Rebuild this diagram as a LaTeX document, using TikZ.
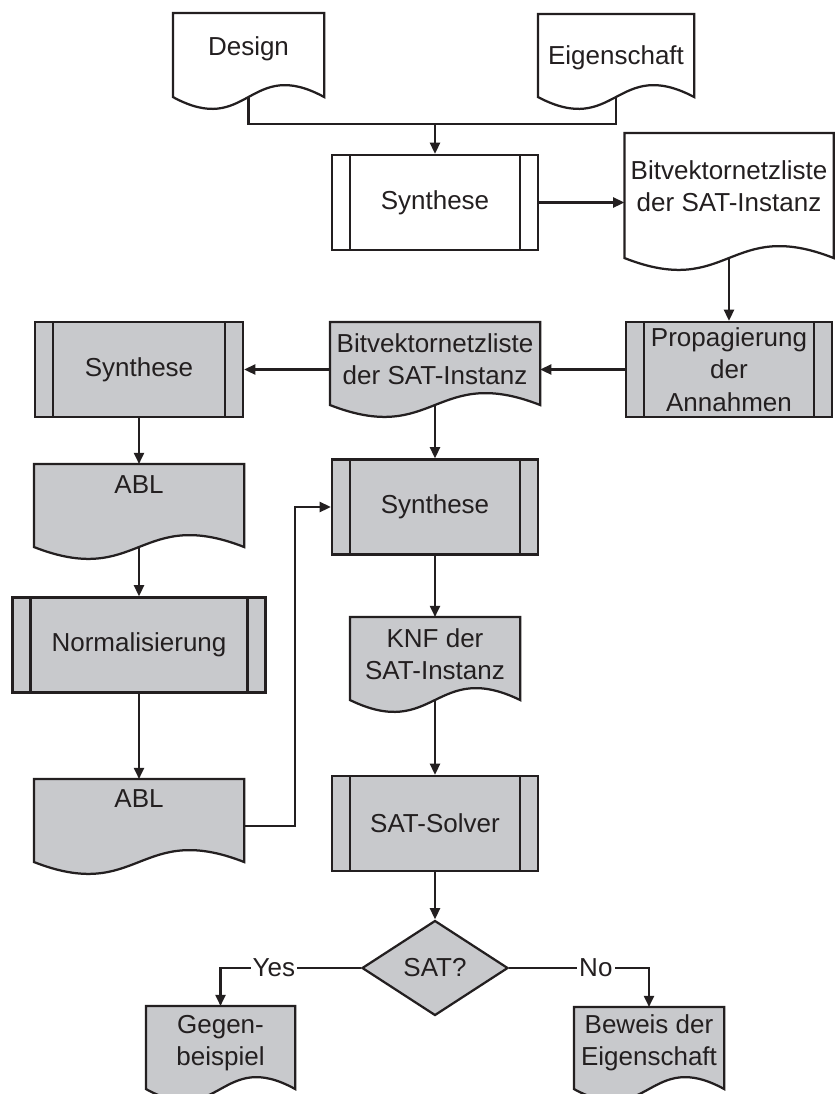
\documentclass[tikz,border=0pt]{standalone}
\usepackage{fontspec}
\setmainfont{Liberation Sans}
\usetikzlibrary{arrows.meta,shapes.geometric,backgrounds}

\definecolor{ink}{RGB}{35,31,32}
\definecolor{boxgray}{RGB}{200,201,204}

% outline of a document symbol around node #2, corner #3 below its top
\newcommand\docshape[3][white]{%
  \filldraw[line width=1.6pt, draw=ink, fill=#1] (#2.north west) -- (#2.north east)
    -- ([yshift=-#3]#2.north east)
    .. controls ([yshift=-#3+1.03cm]#2.north) and ([yshift=-#3-1.03cm]#2.north) .. ([yshift=-#3]#2.north west)
    -- cycle;}

\begin{document}
\begin{tikzpicture}[line width=1.6pt, color=ink,
  every node/.style={font=\fontsize{18.5}{23}\selectfont},
  proc/.style={draw, fill=boxgray, minimum width=5.15cm, minimum height=2.375cm,
    inner sep=1pt, align=center,
    path picture={\draw ([xshift=0.45cm]path picture bounding box.north west) -- ([xshift=0.45cm]path picture bounding box.south west)
      ([xshift=-0.45cm]path picture bounding box.north east) -- ([xshift=-0.45cm]path picture bounding box.south east);}},
  doc/.style={anchor=north, minimum height=1.8cm, inner sep=1pt, align=center},
  dec/.style={diamond, draw, fill=boxgray, minimum width=3.65cm, minimum height=2.375cm, inner sep=0pt},
  arr/.style={-{Triangle[length=0.28cm,width=0.25cm]}},
  lbl/.style={fill=white, inner sep=1.5pt}]
\useasboundingbox (0,0) rectangle (20.9,-27.35);

\node[doc, minimum width=3.725cm, minimum height=1.75cm] (design) at (6.2125,-0.325) {Design};
\node[doc, minimum width=3.85cm, minimum height=2.15cm] (eig) at (15.4,-0.35) {Eigenschaft};
\node[proc, fill=white] (syn1) at (10.875,-5.0625) {Synthese};
\node[doc, minimum width=5.175cm, minimum height=2.6cm] (bit1) at (18.225,-3.325) {Bitvektornetzliste\\der SAT-Instanz};
\node[proc] (prop) at (18.225,-9.2375) {Propagierung\\der\\Annahmen};
\node[doc, minimum width=5.2cm] (bit2) at (10.875,-8.05) {Bitvektornetzliste\\der SAT-Instanz};
\node[proc, minimum width=5.2cm] (syn2) at (3.475,-9.2375) {Synthese};
\node[doc, minimum width=5.2cm, minimum height=0.95cm] (abl1) at (3.475,-11.6) {ABL};
\node[proc] (syn3) at (10.875,-12.675) {Synthese};
\node[proc, minimum width=6.325cm] (norm) at (3.475,-16.125) {Normalisierung};
\node[doc, minimum width=5.2cm, minimum height=0.9cm] (abl2) at (3.475,-19.475) {ABL};
\node[doc, minimum width=4.2cm] (knf) at (10.875,-15.425) {KNF der\\SAT-Instanz};
\node[proc] (solver) at (10.875,-20.5875) {SAT-Solver};
\node[dec] (sat) at (10.875,-24.2) {SAT?};
\node[doc, minimum width=3.675cm] (gegen) at (5.5125,-25.15) {Gegen-\\beispiel};
\node[doc, minimum width=3.7cm, minimum height=1.725cm] (beweis) at (16.225,-25.175) {Beweis der\\Eigenschaft};

% where the wavy bottom edges cross the middle
\coordinate (design-out) at ([yshift=-2.1cm]design.north);
\coordinate (eig-out) at ([yshift=-2.075cm]eig.north);
\coordinate (bit1-out) at ([yshift=-3.125cm]bit1.north);
\coordinate (bit2-out) at ([yshift=-2.075cm]bit2.north);
\coordinate (abl1-out) at ([yshift=-2.075cm]abl1.north);
\coordinate (knf-out) at ([yshift=-2.075cm]knf.north);
\coordinate (merge) at (10.875,-3.1);

\draw (design-out) |- (merge) -| (eig-out);
\draw[arr] (merge) -- (syn1.north);
\draw[arr] (syn1.east) -- (syn1.east -| bit1.west);
\draw[arr] (bit1-out) -- (prop.north);
\draw[arr] (prop.west) -- (prop.west -| bit2.east);
\draw[arr] (syn2.east -| bit2.west) -- (syn2.east);
\draw[arr] (syn2.south) -- (abl1.north);
\draw[arr] (bit2-out) -- (syn3.north);
\draw[arr] (abl1-out) -- (norm.north);
\draw[arr] (syn3.south) -- (knf.north);
\draw[arr] (norm.south) -- (abl2.north);
\draw[arr] ([yshift=-1.175cm]abl2.north east) -- ++(1.275,0) |- (syn3.west);
\draw[arr] (knf-out) -- (solver.north);
\draw[arr] (solver.south) -- (sat.north);
\draw[arr] (sat.west) -| node[lbl, pos=0.31] (yes) {Yes} (gegen.north);
\draw[arr] (sat.east) -| node[lbl, pos=0.31] (no) {No} (beweis.north);

\begin{scope}[on background layer]
\docshape{design}{2.1cm}
\docshape{eig}{2.075cm}
\docshape{bit1}{3.125cm}
\docshape[boxgray]{bit2}{2.075cm}
\docshape[boxgray]{abl1}{2.075cm}
\docshape[boxgray]{abl2}{2.075cm}
\docshape[boxgray]{knf}{2.075cm}
\docshape[boxgray]{gegen}{2.075cm}
\docshape[boxgray]{beweis}{2.05cm}
\end{scope}
\end{tikzpicture}
\end{document}
